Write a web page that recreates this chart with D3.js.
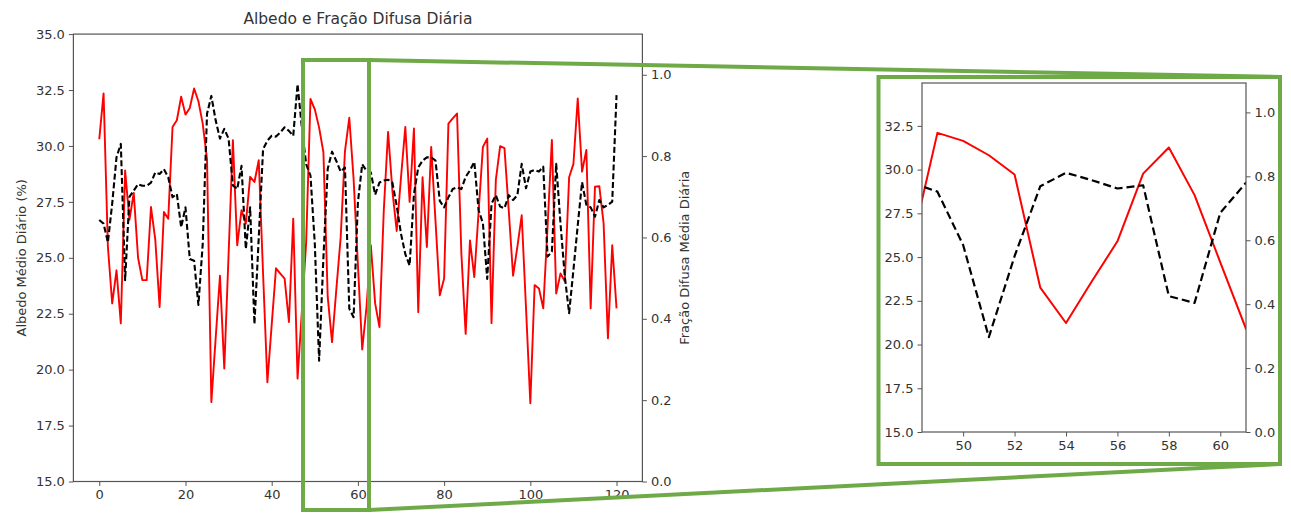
<!DOCTYPE html>
<html>
<head>
<meta charset="utf-8">
<script src="https://cdn.jsdelivr.net/npm/d3@7"></script>
<style>
  html, body { margin: 0; padding: 0; background: #fff; }
  svg { display: block; font-family: "DejaVu Sans", sans-serif; }
</style>
</head>
<body>
<svg id="chart" width="1291" height="513"></svg>
<script>
// Daily mean albedo (%) for days 0..120
const albedo = [
  30.3, 32.35, 25.5, 22.96, 24.44, 22.07, 28.9, 26.7, 27.9, 25.0,
  24.0, 24.0, 27.27, 25.8, 22.8, 27.05, 26.75, 30.85, 31.15, 32.2,
  31.4, 31.7, 32.57, 32.0, 31.0, 29.4, 18.55, 21.4, 24.2, 20.05,
  25.15, 30.26, 25.56, 27.13, 26.53, 28.62, 28.39, 29.36, 24.3, 19.44,
  22.0, 24.53, 24.29, 24.07, 22.13, 26.75, 19.6, 22.6, 25.7, 32.1,
  31.64, 30.82, 29.72, 23.25, 21.23, 23.6, 25.9, 29.77, 31.26, 28.54,
  24.7, 20.9, 22.8, 25.56, 22.96, 21.9, 27.1, 30.63, 28.0, 26.2,
  28.6, 30.85, 27.5, 30.78, 22.57, 28.6, 25.48, 29.96, 26.65, 23.32,
  24.07, 31.0, 31.23, 31.45, 25.2, 21.6, 25.78, 24.14, 27.05, 29.96,
  30.33, 22.08, 28.48, 29.99, 29.9, 27.1, 24.2, 25.5, 26.9, 22.75,
  18.5, 23.78, 23.63, 22.74, 26.4, 30.27, 23.4, 24.3, 23.95, 28.6,
  29.2, 32.12, 28.85, 29.82, 22.74, 28.18, 28.2, 26.54, 21.4, 25.56,
  22.74
];

// Daily mean diffuse fraction for days 0..120
const diffuse = [
  0.643, 0.634, 0.588, 0.683, 0.797, 0.83, 0.495, 0.70, 0.715, 0.731,
  0.727, 0.727, 0.735, 0.76, 0.756, 0.768, 0.748, 0.699, 0.707, 0.625,
  0.674, 0.547, 0.543, 0.434, 0.584, 0.904, 0.948, 0.888, 0.843, 0.867,
  0.843, 0.728, 0.719, 0.776, 0.572, 0.674, 0.387, 0.60, 0.817, 0.838,
  0.85, 0.848, 0.858, 0.871, 0.862, 0.85, 0.977, 0.87, 0.78, 0.752,
  0.585, 0.297, 0.55, 0.769, 0.811, 0.788, 0.762, 0.772, 0.425, 0.404,
  0.686, 0.78, 0.764, 0.76, 0.705, 0.735, 0.74, 0.742, 0.735, 0.678,
  0.609, 0.559, 0.531, 0.707, 0.772, 0.789, 0.797, 0.797, 0.789, 0.69,
  0.674, 0.699, 0.719, 0.723, 0.719, 0.749, 0.765, 0.786, 0.667, 0.635,
  0.498, 0.683, 0.704, 0.676, 0.672, 0.704, 0.692, 0.704, 0.781, 0.721,
  0.762, 0.766, 0.762, 0.774, 0.553, 0.565, 0.781, 0.634, 0.504, 0.414,
  0.52, 0.63, 0.736, 0.68, 0.674, 0.651, 0.692, 0.674, 0.68, 0.688,
  0.95
];

const days = d3.range(albedo.length);

// Tick values
const mainXTicks = [0, 20, 40, 60, 80, 100, 120];
const mainLeftTicks = [15, 17.5, 20, 22.5, 25, 27.5, 30, 32.5, 35];
const mainRightTicks = [0, 0.2, 0.4, 0.6, 0.8, 1.0];
const zoomXTicks = [50, 52, 54, 56, 58, 60];
const zoomLeftTicks = [15, 17.5, 20, 22.5, 25, 27.5, 30, 32.5];
const zoomRightTicks = [0, 0.2, 0.4, 0.6, 0.8, 1.0];

// Text
const titleText = "Albedo e Fração Difusa Diária";
const leftLabel = "Albedo Médio Diário (%)";
const rightLabel = "Fração Difusa Média Diária";

const svg = d3.select("#chart");
const TEXT = "#333";
const SPINE = "#555";
const GREEN = "#6eaa48";
const FS = 13;

function drawPanel(g, opt) {
  const x = d3.scaleLinear().domain(opt.xDomain).range([opt.x0, opt.x1]);
  const yL = d3.scaleLinear().domain(opt.yLDomain).range([opt.y1, opt.y0]);
  const yR = d3.scaleLinear().domain(opt.yRDomain).range([opt.y1, opt.y0]);

  const clipId = opt.id + "-clip";
  g.append("clipPath").attr("id", clipId)
    .append("rect").attr("x", opt.x0).attr("y", opt.y0)
    .attr("width", opt.x1 - opt.x0).attr("height", opt.y1 - opt.y0);

  const plot = g.append("g").attr("clip-path", `url(#${clipId})`);

  plot.append("path")
    .datum(days)
    .attr("fill", "none")
    .attr("stroke", "#ff0000")
    .attr("stroke-width", opt.lw)
    .attr("stroke-linejoin", "round")
    .attr("d", d3.line().x(i => x(i)).y(i => yL(albedo[i])));

  plot.append("path")
    .datum(days)
    .attr("fill", "none")
    .attr("stroke", "#000")
    .attr("stroke-width", opt.lw + 0.2)
    .attr("stroke-dasharray", opt.dash)
    .attr("stroke-linejoin", "round")
    .attr("d", d3.line().x(i => x(i)).y(i => yR(diffuse[i])));

  const fmt1 = d3.format(".1f");

  const ax = g.append("g").attr("transform", `translate(0,${opt.y1})`)
    .call(d3.axisBottom(x).tickValues(opt.xTicks).tickSize(4.5).tickPadding(4).tickFormat(d3.format("d")));
  const al = g.append("g").attr("transform", `translate(${opt.x0},0)`)
    .call(d3.axisLeft(yL).tickValues(opt.yLTicks).tickSize(4.5).tickPadding(4).tickFormat(fmt1));
  const ar = g.append("g").attr("transform", `translate(${opt.x1},0)`)
    .call(d3.axisRight(yR).tickValues(opt.yRTicks).tickSize(4.5).tickPadding(4).tickFormat(fmt1));

  [ax, al, ar].forEach(a => {
    a.select(".domain").remove();
    a.selectAll(".tick line").attr("stroke", SPINE).attr("stroke-width", 1);
    a.selectAll(".tick text").attr("fill", TEXT).style("font-size", FS + "px")
      .style("font-family", "DejaVu Sans, sans-serif");
  });

  g.append("rect")
    .attr("x", opt.x0).attr("y", opt.y0)
    .attr("width", opt.x1 - opt.x0).attr("height", opt.y1 - opt.y0)
    .attr("fill", "none").attr("stroke", SPINE).attr("stroke-width", 1.2);

  return { x, yL, yR };
}

// Main chart
const main = { x0: 73.4, x1: 642.4, y0: 34.1, y1: 481.5 };
const mainG = svg.append("g");
drawPanel(mainG, {
  id: "main", ...main,
  xDomain: [-6, 126], yLDomain: [15, 35], yRDomain: [0, 1.1],
  xTicks: mainXTicks, yLTicks: mainLeftTicks, yRTicks: mainRightTicks,
  lw: 1.9, dash: "6,2.8"
});

mainG.append("text")
  .attr("x", (main.x0 + main.x1) / 2).attr("y", 24)
  .attr("text-anchor", "middle").attr("fill", TEXT)
  .style("font-size", "15.5px")
  .text(titleText);

mainG.append("text")
  .attr("transform", `translate(${26},${(main.y0 + main.y1) / 2}) rotate(-90)`)
  .attr("text-anchor", "middle").attr("fill", TEXT)
  .style("font-size", FS + "px")
  .text(leftLabel);

mainG.append("text")
  .attr("transform", `translate(${685},${(main.y0 + main.y1) / 2}) rotate(-90)`)
  .attr("text-anchor", "middle").attr("dominant-baseline", "middle").attr("fill", TEXT)
  .style("font-size", FS + "px")
  .text(rightLabel);

// Highlight window and call-out connectors
const win = { x0: 303, x1: 369, y0: 60, y1: 510 };
const box = { x0: 878.5, x1: 1280, y0: 77, y1: 464 };

const callout = svg.append("g");
callout.append("rect")
  .attr("x", win.x0).attr("y", win.y0)
  .attr("width", win.x1 - win.x0).attr("height", win.y1 - win.y0)
  .attr("fill", "none").attr("stroke", GREEN).attr("stroke-width", 4);
callout.append("line")
  .attr("x1", win.x1).attr("y1", win.y0).attr("x2", box.x1).attr("y2", box.y0)
  .attr("stroke", GREEN).attr("stroke-width", 4);
callout.append("line")
  .attr("x1", win.x1).attr("y1", win.y1).attr("x2", box.x1).attr("y2", box.y1)
  .attr("stroke", GREEN).attr("stroke-width", 4);
callout.append("rect")
  .attr("x", box.x0).attr("y", box.y0)
  .attr("width", box.x1 - box.x0).attr("height", box.y1 - box.y0)
  .attr("fill", "#fff").attr("stroke", GREEN).attr("stroke-width", 4);

// Zoomed panel
const zoomG = svg.append("g");
drawPanel(zoomG, {
  id: "zoom", x0: 922, x1: 1246, y0: 83, y1: 432,
  xDomain: [48.4, 61], yLDomain: [15, 34.95], yRDomain: [0, 1.092],
  xTicks: zoomXTicks, yLTicks: zoomLeftTicks, yRTicks: zoomRightTicks,
  lw: 2.0, dash: "8,4"
});
</script>
</body>
</html>
